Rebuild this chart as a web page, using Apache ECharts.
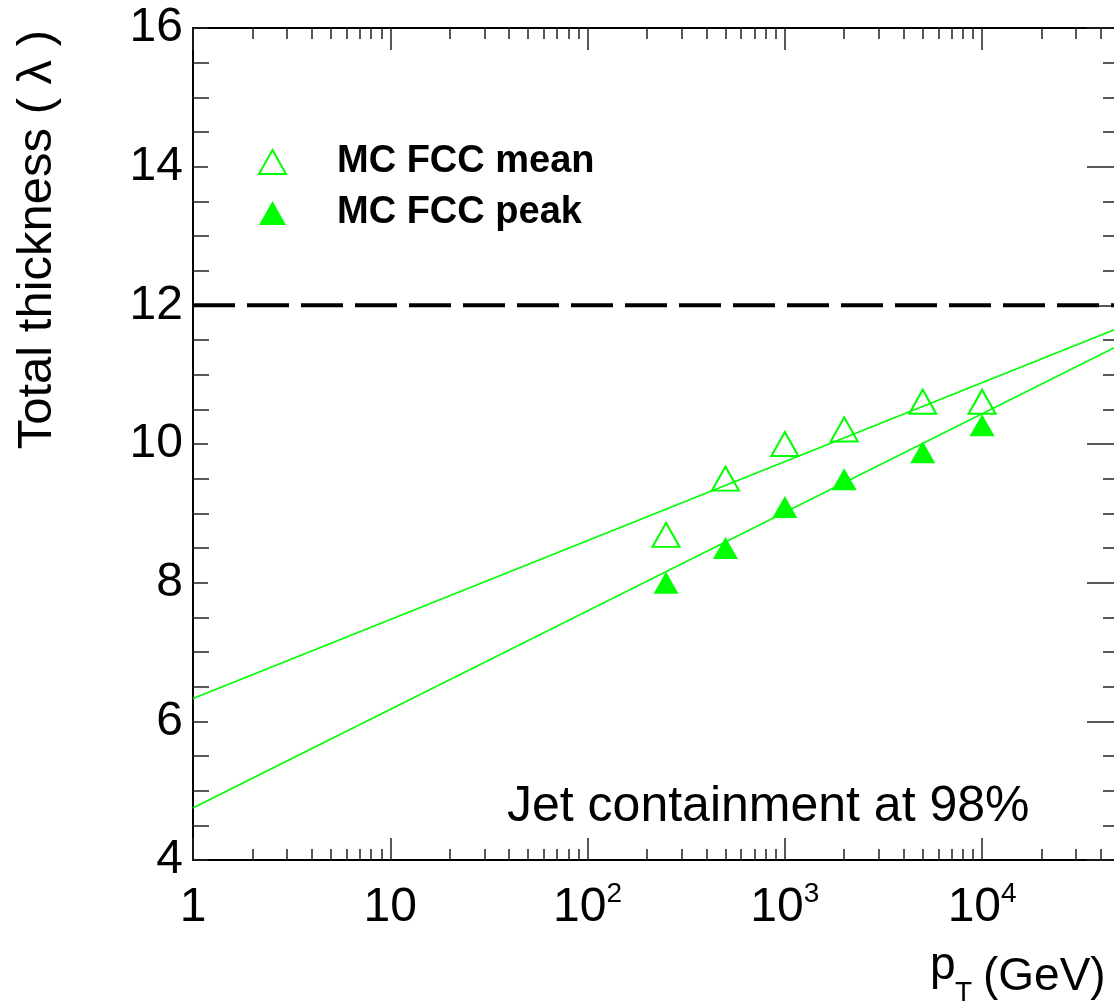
<!DOCTYPE html>
<html>
<head>
<meta charset="utf-8">
<script src="https://cdn.jsdelivr.net/npm/echarts@6/dist/echarts.min.js"></script>
<style>
html,body{margin:0;padding:0;background:#fff;}
#chart{width:1114px;height:1006px;}
</style>
</head>
<body>
<div id="chart"></div>
<script>
// ---- data ----
const pT = [250, 500, 1000, 2000, 5000, 10000];
const meanThickness = [8.69, 9.50, 10.00, 10.21, 10.61, 10.61];
const peakThickness = [8.00, 8.50, 9.09, 9.49, 9.88, 10.27];
const fitPT = [1, 50000];
const meanFit = [6.33, 11.68];
const peakFit = [4.75, 11.43];
const containmentLevel = [12, 12];
const xMajorTicks = [1, 10, 100, 1000, 10000];
const xTickLabels = ['{a|1}', '{a|10}', '{a|10}{s|2}', '{a|10}{s|3}', '{a|10}{s|4}'];
const xMin = 1, xMax = 50000;
const yMin = 4, yMax = 16, yStep = 2;

const xMinorTicks = [];
for (let d = 1; d <= 10000; d *= 10) {
  for (let k = 2; k <= 9; k++) { if (k * d <= xMax) xMinorTicks.push(k * d); }
}

const FONT = 'Liberation Sans';
const GREEN = '#00ff00';
const tickLine = { color: '#222', width: 1.5 };
const axisLine = { show: true, onZero: false, lineStyle: { color: '#000', width: 2 } };

function xAx(position, ticks, len, labels) {
  return {
    type: 'log', logBase: 10, min: xMin, max: xMax, position: position, gridIndex: 0,
    axisLine: ticks === xMajorTicks ? axisLine : { show: false },
    splitLine: { show: false },
    axisTick: { show: true, inside: true, length: len, customValues: ticks, lineStyle: tickLine },
    axisLabel: labels ? {
      show: true, customValues: xMajorTicks, margin: 20,
      formatter: function (v) { return xTickLabels[Math.round(Math.log10(v))]; },
      rich: {
        a: { fontFamily: FONT, fontSize: 48, lineHeight: 56, color: '#000' },
        s: { fontFamily: FONT, fontSize: 28, lineHeight: 28, verticalAlign: 'top', color: '#000' }
      }
    } : { show: false }
  };
}

const chart = echarts.init(document.getElementById('chart'), null, { renderer: 'canvas' });
chart.setOption({
  animation: false,
  backgroundColor: '#fff',
  grid: { left: 193, top: 28, width: 927, height: 832, outerBoundsMode: 'none' },
  xAxis: [
    xAx('bottom', xMajorTicks, 22, true),
    xAx('bottom', xMinorTicks, 11, false),
    xAx('top', xMajorTicks, 22, false),
    xAx('top', xMinorTicks, 11, false)
  ],
  yAxis: [
    {
      type: 'value', min: yMin, max: yMax, interval: yStep, position: 'left',
      axisLine: axisLine, splitLine: { show: false },
      axisTick: { show: true, inside: true, length: 15, lineStyle: tickLine },
      minorTick: { show: true, splitNumber: 4, length: 16, lineStyle: tickLine },
      axisLabel: { show: true, margin: 10, fontFamily: FONT, fontSize: 48, color: '#000' }
    },
    {
      type: 'value', min: yMin, max: yMax, interval: yStep, position: 'right',
      axisLine: axisLine, splitLine: { show: false },
      axisTick: { show: true, inside: true, length: 33, lineStyle: tickLine },
      minorTick: { show: true, splitNumber: 4, length: 17, lineStyle: tickLine },
      axisLabel: { show: false }
    }
  ],
  legend: {
    data: ['MC FCC mean', 'MC FCC peak'],
    orient: 'vertical', left: 258, top: 143, padding: 0,
    itemWidth: 27, itemHeight: 24, itemGap: 13, icon: 'triangle',
    textStyle: { fontFamily: FONT, fontWeight: 'bold', fontSize: 38, color: '#000', padding: [0, 0, 0, 46] }
  },
  graphic: [
    { type: 'text', x: 37, y: 30, rotation: Math.PI / 2,
      style: { text: 'Total thickness ( λ )', font: '49px "Liberation Sans"', fill: '#000', align: 'right', verticalAlign: 'middle' } },
    { type: 'text', x: 507, y: 807,
      style: { text: 'Jet containment at 98%', font: '50px "Liberation Sans"', fill: '#000', align: 'left', verticalAlign: 'middle' } },
    { type: 'text', x: 930, y: 966,
      style: { text: 'p', font: '46px "Liberation Sans"', fill: '#000', align: 'left', verticalAlign: 'middle' } },
    { type: 'text', x: 955, y: 993,
      style: { text: 'T', font: '28px "Liberation Sans"', fill: '#000', align: 'left', verticalAlign: 'middle' } },
    { type: 'text', x: 983, y: 977,
      style: { text: '(GeV)', font: '46px "Liberation Sans"', fill: '#000', align: 'left', verticalAlign: 'middle' } }
  ],
  series: [
    {
      name: 'containment', type: 'line', xAxisIndex: 0, yAxisIndex: 0, showSymbol: false, silent: true,
      data: fitPT.map((x, i) => [x, containmentLevel[i]]),
      lineStyle: { color: '#000', width: 4, type: [42, 12] }, z: 2
    },
    {
      name: 'mean fit', type: 'line', xAxisIndex: 0, yAxisIndex: 0, showSymbol: false, silent: true,
      data: fitPT.map((x, i) => [x, meanFit[i]]),
      lineStyle: { color: GREEN, width: 1.6 }, z: 2
    },
    {
      name: 'peak fit', type: 'line', xAxisIndex: 0, yAxisIndex: 0, showSymbol: false, silent: true,
      data: fitPT.map((x, i) => [x, peakFit[i]]),
      lineStyle: { color: GREEN, width: 1.6 }, z: 2
    },
    {
      name: 'MC FCC mean', type: 'scatter', xAxisIndex: 0, yAxisIndex: 0,
      symbol: 'triangle', symbolSize: [27, 24],
      itemStyle: { color: 'rgba(0,0,0,0)', borderColor: GREEN, borderWidth: 2, opacity: 1 },
      data: pT.map((x, i) => [x, meanThickness[i]]), z: 5
    },
    {
      name: 'MC FCC peak', type: 'scatter', xAxisIndex: 0, yAxisIndex: 0,
      symbol: 'triangle', symbolSize: [25, 22],
      itemStyle: { color: GREEN, borderWidth: 0, opacity: 1 },
      data: pT.map((x, i) => [x, peakThickness[i]]), z: 5
    }
  ]
});
</script>
</body>
</html>
